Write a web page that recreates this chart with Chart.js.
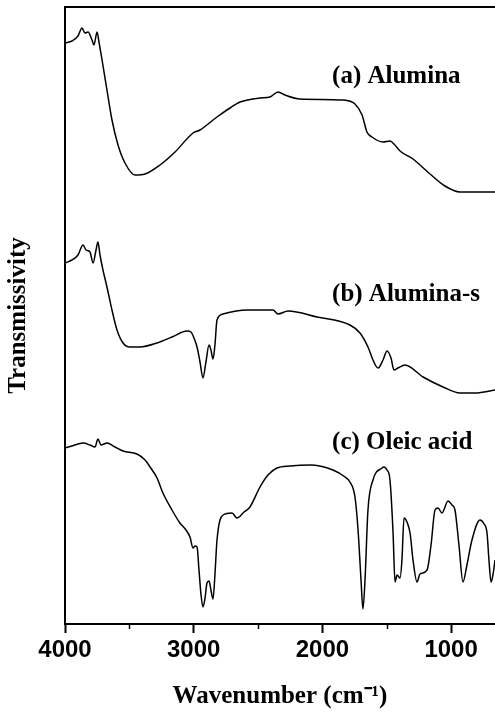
<!DOCTYPE html>
<html>
<head>
<meta charset="utf-8">
<script src="https://cdn.jsdelivr.net/npm/chart.js@4.4.1/dist/chart.umd.min.js"></script>
<style>
  html, body { margin: 0; padding: 0; background: #fff; }
  #wrap { width: 495px; height: 718px; }
</style>
</head>
<body>
<div id="wrap"><canvas id="ftir"></canvas></div>
<script>
// wavenumbers (cm-1) and transmissivity (a.u., curves stacked)
const wnA = [4000, 3946, 3899, 3868, 3845, 3821, 3790, 3775, 3751, 3736, 3712, 3674, 3635, 3588, 3534, 3456, 3378, 3262, 3145, 3005, 2951, 2819, 2718, 2640, 2485, 2407, 2345, 2291, 2174, 1840, 1747, 1692, 1654, 1615, 1529, 1475, 1437, 1397, 1296, 1164, 1048, 931, 814, 659];
const trA = [581, 583, 588, 596, 591, 592, 584, 579, 592, 582, 564, 534, 504, 479, 461, 449, 450, 459, 472, 491, 494, 507, 516, 522, 526, 527, 532, 529, 525, 524, 520, 509, 492, 487, 482, 483, 479, 473, 465, 450, 438, 432, 432, 432];

const wnB = [4000, 3946, 3899, 3860, 3837, 3806, 3782, 3759, 3744, 3728, 3705, 3674, 3635, 3596, 3549, 3495, 3417, 3285, 3169, 3052, 3021, 2998, 2974, 2951, 2928, 2905, 2881, 2866, 2850, 2835, 2819, 2773, 2586, 2384, 2345, 2267, 2042, 1786, 1708, 1646, 1607, 1568, 1529, 1498, 1467, 1444, 1413, 1358, 1218, 1063, 931, 814, 659];
const trB = [361, 364, 369, 379, 374, 372, 361, 374, 382, 369, 354, 337, 314, 294, 281, 277, 277, 281, 287, 293, 292, 286, 277, 262, 246, 262, 279, 274, 265, 279, 304, 310, 314, 314, 310, 313, 307, 299, 291, 277, 264, 256, 264, 273, 266, 254, 256, 259, 247, 237, 231, 231, 234];

const wnC = [4000, 3946, 3860, 3806, 3767, 3744, 3720, 3674, 3612, 3549, 3441, 3378, 3339, 3285, 3239, 3169, 3107, 3060, 3029, 3005, 2990, 2974, 2959, 2943, 2928, 2912, 2897, 2881, 2866, 2850, 2835, 2819, 2772, 2702, 2664, 2609, 2563, 2485, 2423, 2353, 2252, 2097, 1918, 1824, 1786, 1747, 1723, 1700, 1685, 1669, 1646, 1607, 1537, 1521, 1498, 1475, 1451, 1436, 1420, 1397, 1382, 1366, 1343, 1319, 1296, 1265, 1242, 1187, 1156, 1125, 1102, 1071, 1024, 993, 970, 939, 908, 877, 838, 776, 744, 721, 706, 690, 675, 659];
const trC = [176, 178, 181, 179, 177, 185, 179, 181, 177, 173, 170, 164, 157, 146, 131, 114, 101, 94, 87, 76, 78, 77, 54, 29, 17, 26, 41, 43, 34, 25, 49, 84, 109, 111, 106, 112, 117, 137, 149, 156, 158, 159, 154, 147, 142, 127, 94, 44, 15, 44, 114, 144, 156, 157, 154, 144, 91, 42, 49, 46, 64, 106, 102, 91, 64, 42, 50, 54, 79, 114, 116, 111, 123, 119, 114, 79, 42, 59, 84, 104, 100, 91, 64, 42, 49, 64];

const majorTicks = [4000, 3000, 2000, 1000];
const minorTicks = [3500, 2500, 1500];

// curve labels: text, anchor wavenumber, anchor transmissivity
const curveLabels = ['(a) Alumina', '(b) Alumina-s', '(c) Oleic acid'];
const labelWn = [1925, 1925, 1925];
const labelTr = [547, 329, 181];

function toPoints(xs, ys) {
    return xs.map((x, i) => ({ x: x, y: ys[i] }));
}

const lineStyle = {
    borderColor: '#000',
    borderWidth: 1.5,
    pointRadius: 0,
    fill: false,
    cubicInterpolationMode: 'monotone'
};

// frame top line, minor ticks and curve labels
const extras = {
    id: 'extras',
    afterDraw(chart) {
        const ctx = chart.ctx;
        const area = chart.chartArea;
        const xs = chart.scales.x;
        const ys = chart.scales.y;
        ctx.save();
        ctx.strokeStyle = '#000';
        ctx.lineWidth = 2;
        ctx.beginPath();
        ctx.moveTo(area.left, area.top);
        ctx.lineTo(chart.width, area.top);
        ctx.stroke();

        ctx.lineWidth = 1.5;
        minorTicks.forEach(v => {
            const px = Math.round(xs.getPixelForValue(v)) + 0.5;
            ctx.beginPath();
            ctx.moveTo(px, area.bottom);
            ctx.lineTo(px, area.bottom + 5);
            ctx.stroke();
        });

        ctx.fillStyle = '#000';
        ctx.font = 'bold 25px "Liberation Serif", "Times New Roman", serif';
        ctx.textBaseline = 'middle';
        ctx.textAlign = 'left';
        curveLabels.forEach((t, i) => {
            ctx.fillText(t, xs.getPixelForValue(labelWn[i]), ys.getPixelForValue(labelTr[i]));
        });
        ctx.restore();
    }
};

const ctx = document.getElementById('ftir').getContext('2d');
new Chart(ctx, {
    type: 'line',
    data: {
        datasets: [
            Object.assign({ label: 'Alumina', data: toPoints(wnA, trA) }, lineStyle),
            Object.assign({ label: 'Alumina-s', data: toPoints(wnB, trB) }, lineStyle),
            Object.assign({ label: 'Oleic acid', data: toPoints(wnC, trC) }, lineStyle)
        ]
    },
    options: {
        responsive: true,
        maintainAspectRatio: false,
        animation: false,
        layout: { padding: { top: 7, right: 0, left: 0, bottom: 0 } },
        plugins: {
            legend: { display: false },
            tooltip: { enabled: false }
        },
        scales: {
            x: {
                type: 'linear',
                reverse: true,
                min: 659,
                max: 4000,
                afterBuildTicks: function (scale) {
                    scale.ticks = majorTicks.map(v => ({ value: v }));
                },
                afterFit: function (scale) {
                    scale.height = 94;
                },
                border: { display: true, color: '#000', width: 2 },
                grid: {
                    display: true,
                    drawOnChartArea: false,
                    drawTicks: true,
                    tickLength: 9,
                    tickWidth: 2,
                    tickColor: '#000'
                },
                ticks: {
                    color: '#000',
                    padding: 3,
                    maxRotation: 0,
                    callback: function (value) {
                        return String(value);
                    },
                    font: { family: '"Liberation Sans", Arial, sans-serif', size: 24, weight: 'bold' }
                },
                title: {
                    display: true,
                    text: 'Wavenumber (cm\u207B\u00B9)',
                    color: '#000',
                    padding: { top: 0, bottom: 6 },
                    font: { family: '"Liberation Serif", "Times New Roman", serif', size: 25, weight: 'bold' }
                }
            },
            y: {
                min: 0,
                max: 617,
                afterFit: function (scale) {
                    scale.width = 65;
                },
                border: { display: true, color: '#000', width: 2 },
                grid: { display: false, drawTicks: false },
                ticks: { display: false },
                title: {
                    display: true,
                    text: 'Transmissivity',
                    color: '#000',
                    padding: { top: 4, bottom: 0 },
                    font: { family: '"Liberation Serif", "Times New Roman", serif', size: 25, weight: 'bold' }
                }
            }
        }
    },
    plugins: [extras]
});
</script>
</body>
</html>
